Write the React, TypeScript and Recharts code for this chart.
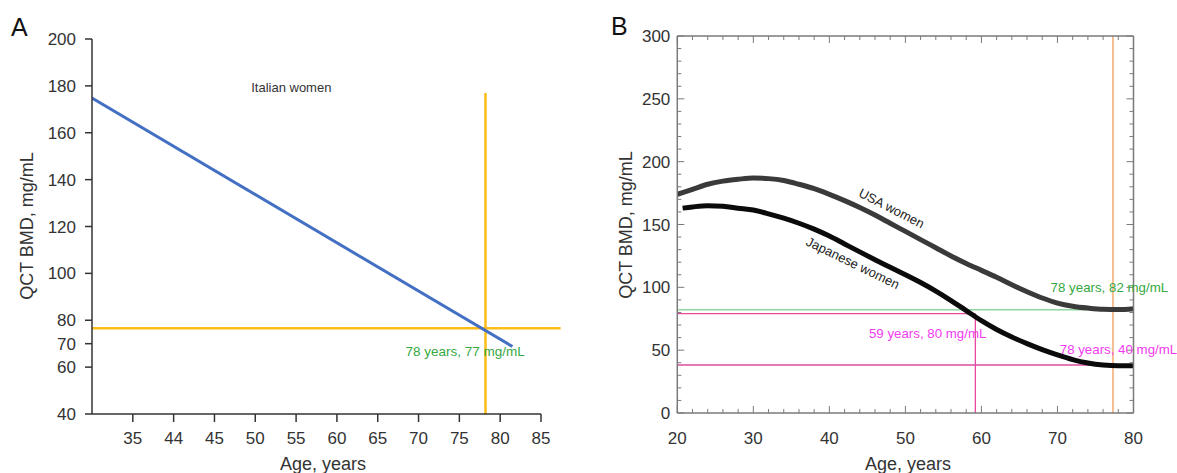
import React from 'react';
import { LineChart, Line, XAxis, YAxis, ReferenceLine, ReferenceDot } from 'recharts';

// ---------- Panel A data ----------
const italianAges = [30, 81.5];
const italianBmd = [174.8, 68.8];
const aXTicks = [35, 40, 45, 50, 55, 60, 65, 70, 75, 80, 85];
const aXTickLabels = ['35', '44', '45', '50', '55', '60', '65', '70', '75', '80', '85'];
const aYTicks = [40, 60, 70, 80, 100, 120, 140, 160, 180, 200];
const aCutAge = 78.2;
const aCutBmd = 76.6;
const aHLineEndAge = 87.4;
const aVLineTop = 177;

// ---------- Panel B data ----------
const usaAges = [20, 22, 24, 26, 28, 30, 32, 34, 36, 38, 40, 42, 44, 46, 48, 50, 52, 54, 56, 58, 60, 62, 64, 66, 68, 70, 72, 74, 76, 78, 80];
const usaBmd = [174, 178, 182, 184.5, 186, 187, 186.5, 185, 182, 178.5, 174, 169, 163.5, 157.5, 151, 144.5, 138, 131.5, 125, 119, 113.5, 108, 102, 96.5, 91.5, 87.5, 85, 83.5, 82.5, 82.3, 83];
const japanAges = [20.7, 22, 24, 26, 28, 30, 32, 34, 36, 38, 40, 42, 44, 46, 48, 50, 52, 54, 56, 58, 60, 62, 64, 66, 68, 70, 72, 74, 76, 78, 80];
const japanBmd = [163, 164, 165, 164.5, 163, 161.5, 158.5, 155, 151, 146.3, 140.8, 134.5, 128.2, 122, 116, 110, 103.8, 97, 89.5, 81.5, 73.5, 66.5, 60.5, 55.2, 50.4, 46.2, 42.5, 39.8, 38.2, 37.6, 37.6];
const bXTicks = [20, 22, 24, 26, 28, 30, 32, 34, 36, 38, 40, 42, 44, 46, 48, 50, 52, 54, 56, 58, 60, 62, 64, 66, 68, 70, 72, 74, 76, 78, 80];
const bYTicks = [0, 10, 20, 30, 40, 50, 60, 70, 80, 90, 100, 110, 120, 130, 140, 150, 160, 170, 180, 190, 200, 210, 220, 230, 240, 250, 260, 270, 280, 290, 300];
const usaThreshold = 82.2;
const japanCrossAge = 59.2;
const japanCrossBmd = 79;
const japan78Bmd = 38.2;
const bAge78 = 77.3;

const italianData = italianAges.map((a, i) => ({ age: a, bmd: italianBmd[i] }));
const usaData = usaAges.map((a, i) => ({ age: a, bmd: usaBmd[i] }));
const japanData = japanAges.map((a, i) => ({ age: a, bmd: japanBmd[i] }));

const FONT = '"Liberation Sans", Arial, Helvetica, sans-serif';
const TXT = '#333';
const FRAME = '#7a7a7a';
const BX_MARGIN = 19;
const BY_MARGIN = 7;

function BBottomTick(props: any) {
  const { x, y, payload } = props;
  const axisY = y - BX_MARGIN;
  const major = payload.value % 10 === 0;
  return (
    <g>
      <line x1={x} x2={x} y1={axisY} y2={axisY - (major ? 7 : 4)} stroke={FRAME} strokeWidth={1} />
      {major && (
        <text x={x} y={y} dy="0.71em" textAnchor="middle" fontSize={17} fill={TXT} fontFamily={FONT}>
          {payload.value}
        </text>
      )}
    </g>
  );
}

function BTopTick(props: any) {
  const { x, y, payload } = props;
  const major = payload.value % 10 === 0;
  return <line x1={x} x2={x} y1={y} y2={y + (major ? 7 : 4)} stroke={FRAME} strokeWidth={1} />;
}

function BLeftTick(props: any) {
  const { x, y, payload } = props;
  const axisX = x + BY_MARGIN;
  const major = payload.value % 50 === 0;
  return (
    <g>
      <line x1={axisX} x2={axisX + (major ? 7 : 4)} y1={y} y2={y} stroke={FRAME} strokeWidth={1} />
      {major && (
        <text x={x} y={y} dy="0.355em" textAnchor="end" fontSize={17} fill={TXT} fontFamily={FONT}>
          {payload.value}
        </text>
      )}
    </g>
  );
}

function BRightTick(props: any) {
  const { x, y, payload } = props;
  const major = payload.value % 50 === 0;
  return <line x1={x} x2={x - (major ? 7 : 4)} y1={y} y2={y} stroke={FRAME} strokeWidth={1} />;
}

export default function App() {
  return (
    <div style={{ position: 'absolute', left: 0, top: 0, width: 1177, height: 473, background: '#fff', fontFamily: FONT }}>
      <div style={{ position: 'absolute', left: 0, top: 0 }}>
        <LineChart width={590} height={473} margin={{ top: 39, right: 49, left: 32, bottom: 19 }}>
          <XAxis
            type="number"
            dataKey="age"
            domain={[30, 85]}
            allowDataOverflow
            ticks={aXTicks}
            interval={0}
            tickFormatter={(v: number) => aXTickLabels[aXTicks.indexOf(v)] ?? String(v)}
            height={40}
            tickSize={8}
            tickMargin={10}
            stroke="#333"
            strokeWidth={1.5}
            tick={{ fontSize: 17, fill: TXT }}
          />
          <YAxis
            type="number"
            dataKey="bmd"
            domain={[40, 200]}
            allowDataOverflow
            ticks={aYTicks}
            interval={0}
            width={60}
            tickSize={7}
            tickMargin={9}
            stroke="#333"
            strokeWidth={1.5}
            tick={{ fontSize: 17, fill: TXT }}
          />
          <ReferenceLine
            segment={[{ x: 30, y: aCutBmd }, { x: aHLineEndAge, y: aCutBmd }]}
            stroke="#fdbd17"
            strokeWidth={2.5}
            ifOverflow="visible"
          />
          <ReferenceLine
            segment={[{ x: aCutAge, y: 40 }, { x: aCutAge, y: aVLineTop }]}
            stroke="#fdbd17"
            strokeWidth={2.5}
            ifOverflow="visible"
          />
          <Line data={italianData} dataKey="bmd" type="linear" stroke="#4470c4" strokeWidth={3} dot={false} isAnimationActive={false} />
          <ReferenceDot x={49.5} y={179.2} r={0} fill="none" stroke="none"
            label={{ value: 'Italian women', position: 'right', offset: 0, fontSize: 13, fill: '#333' }} />
          <ReferenceDot x={68.4} y={66.7} r={0} fill="none" stroke="none"
            label={{ value: '78 years, 77 mg/mL', position: 'right', offset: 0, fontSize: 13.5, fill: '#36a83f' }} />
        </LineChart>
      </div>

      <div style={{ position: 'absolute', left: 590, top: 0 }}>
        <LineChart width={587} height={473} margin={{ top: 35, right: 42.5, left: 27.3, bottom: 20 }}>
          <XAxis
            xAxisId="b"
            type="number"
            dataKey="age"
            domain={[20, 80]}
            allowDataOverflow
            ticks={bXTicks}
            interval={0}
            height={40}
            tickSize={0}
            tickMargin={BX_MARGIN}
            tickLine={false}
            stroke={FRAME}
            strokeWidth={1.5}
            tick={<BBottomTick />}
          />
          <XAxis
            xAxisId="top"
            orientation="top"
            type="number"
            dataKey="age"
            domain={[20, 80]}
            allowDataOverflow
            ticks={bXTicks}
            interval={0}
            height={1}
            tickSize={0}
            tickMargin={0}
            tickLine={false}
            stroke={FRAME}
            strokeWidth={1.5}
            tick={<BTopTick />}
          />
          <YAxis
            yAxisId="left"
            type="number"
            dataKey="bmd"
            domain={[0, 300]}
            allowDataOverflow
            ticks={bYTicks}
            interval={0}
            width={60}
            tickSize={0}
            tickMargin={BY_MARGIN}
            tickLine={false}
            stroke={FRAME}
            strokeWidth={1.5}
            tick={<BLeftTick />}
          />
          <YAxis
            yAxisId="right"
            orientation="right"
            type="number"
            dataKey="bmd"
            domain={[0, 300]}
            allowDataOverflow
            ticks={bYTicks}
            interval={0}
            width={1}
            tickSize={0}
            tickMargin={0}
            tickLine={false}
            stroke={FRAME}
            strokeWidth={1.5}
            tick={<BRightTick />}
          />
          <ReferenceLine xAxisId="b" yAxisId="left"
            segment={[{ x: 20, y: usaThreshold }, { x: 80, y: usaThreshold }]}
            stroke="#8fd69f" strokeWidth={1.5} />
          <ReferenceLine xAxisId="b" yAxisId="left"
            segment={[{ x: 20, y: japanCrossBmd }, { x: japanCrossAge, y: japanCrossBmd }]}
            stroke="#e8489f" strokeWidth={1.3} />
          <ReferenceLine xAxisId="b" yAxisId="left"
            segment={[{ x: japanCrossAge, y: 0 }, { x: japanCrossAge, y: japanCrossBmd }]}
            stroke="#e8489f" strokeWidth={1.3} />
          <ReferenceLine xAxisId="b" yAxisId="left"
            segment={[{ x: 20, y: japan78Bmd }, { x: 80, y: japan78Bmd }]}
            stroke="#dc4c9c" strokeWidth={1.3} />
          <ReferenceLine xAxisId="b" yAxisId="left"
            segment={[{ x: bAge78, y: 0 }, { x: bAge78, y: 300 }]}
            stroke="#f59a5a" strokeWidth={1.3} />
          <Line xAxisId="b" yAxisId="left" data={usaData} dataKey="bmd" type="monotone" stroke="#3a3a3a" strokeWidth={5} dot={false} isAnimationActive={false} />
          <Line xAxisId="b" yAxisId="left" data={japanData} dataKey="bmd" type="monotone" stroke="#0b0b0b" strokeWidth={5} dot={false} isAnimationActive={false} />
          <ReferenceDot xAxisId="b" yAxisId="left" x={48.2} y={163} r={0} fill="none" stroke="none"
            label={{ value: 'USA women', position: 'center', angle: 27, fontSize: 13, fill: '#222' }} />
          <ReferenceDot xAxisId="b" yAxisId="left" x={43.1} y={119.5} r={0} fill="none" stroke="none"
            label={{ value: 'Japanese women', position: 'center', angle: 26, fontSize: 13, fill: '#222' }} />
          <ReferenceDot xAxisId="b" yAxisId="left" x={69.1} y={100.2} r={0} fill="none" stroke="none"
            label={{ value: '78 years, 82 mg/mL', position: 'right', offset: 0, fontSize: 13.3, fill: '#36a83f' }} />
          <ReferenceDot xAxisId="b" yAxisId="left" x={45.2} y={63.6} r={0} fill="none" stroke="none"
            label={{ value: '59 years, 80 mg/mL', position: 'right', offset: 0, fontSize: 13.3, fill: '#f23cf0' }} />
          <ReferenceDot xAxisId="b" yAxisId="left" x={70.3} y={50.9} r={0} fill="none" stroke="none"
            label={{ value: '78 years, 40 mg/mL', position: 'right', offset: 0, fontSize: 13.3, fill: '#f23cf0' }} />
        </LineChart>
      </div>

      <svg width={1177} height={473} style={{ position: 'absolute', left: 0, top: 0, pointerEvents: 'none' }}>
        <text x={11} y={36} fontSize={25} fill="#111" fontFamily={FONT}>A</text>
        <text x={611} y={35} fontSize={25} fill="#111" fontFamily={FONT}>B</text>
        <text x={32.5} y={226} transform="rotate(-90 32.5 226)" textAnchor="middle" fontSize={18} fill={TXT} fontFamily={FONT}>QCT BMD, mg/mL</text>
        <text x={631.5} y={225} transform="rotate(-90 631.5 225)" textAnchor="middle" fontSize={18} fill={TXT} fontFamily={FONT}>QCT BMD, mg/mL</text>
        <text x={323} y={470} textAnchor="middle" fontSize={18} fill={TXT} fontFamily={FONT}>Age, years</text>
        <text x={908} y={470} textAnchor="middle" fontSize={18} fill={TXT} fontFamily={FONT}>Age, years</text>
      </svg>
    </div>
  );
}
